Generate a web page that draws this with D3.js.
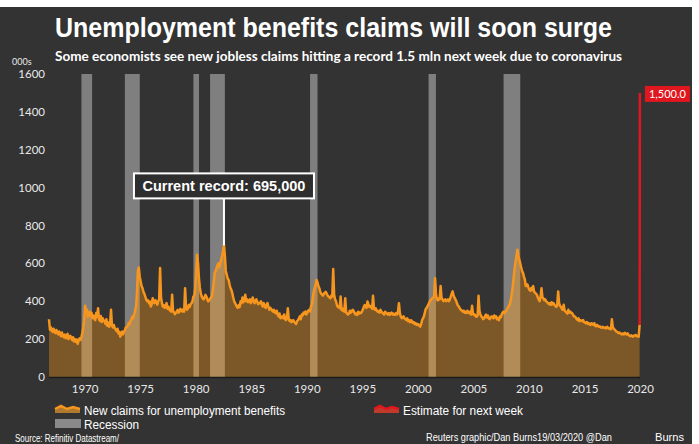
<!DOCTYPE html>
<html>
<head>
<meta charset="utf-8">
<script src="https://cdn.jsdelivr.net/npm/d3@7"></script>
<style>
  body { margin: 0; background: #ffffff; }
  svg { display: block; }
</style>
</head>
<body>
<div id="chart"></div>
<script>
// Initial jobless claims (000s), monthly levels, one row per year
const claims1967to1979 = [
  305, 250, 262, 245, 238, 255, 240, 232, 248, 236, 225, 240,
  228, 215, 235, 218, 210, 224, 205, 212, 228, 200, 210, 218,
  205, 195, 210, 188, 200, 185, 198, 175, 192, 204, 196, 212,
  230, 262, 300, 376, 340, 355, 318, 330, 345, 322, 338, 310,
  325, 312, 300, 338, 318, 363, 305, 296, 322, 290, 310, 298,
  295, 280, 305, 270, 288, 265, 284, 355, 272, 262, 275, 258,
  250, 242, 255, 230, 238, 213, 232, 240, 225, 238, 248, 262,
  262, 270, 285, 278, 295, 305, 319, 312, 330, 350, 372, 440,
  560, 578, 531, 505, 480, 470, 450, 440, 425, 410, 400, 405,
  390, 398, 372, 385, 416, 400, 390, 405, 395, 382, 400, 410,
  575, 420, 390, 372, 380, 365, 372, 390, 360, 372, 355, 350,
  345, 434, 350, 340, 332, 338, 346, 355, 340, 345, 360, 352,
  346, 358, 345, 469, 372, 355, 362, 380, 370, 385, 390, 400
];
const claims1980s = [
  425, 430, 470, 560, 646, 600, 520, 470, 440, 425, 415, 410,
  420, 434, 425, 410, 399, 405, 412, 420, 425, 460, 500, 549,
  560, 575, 590, 600, 580, 600, 620, 640, 665, 698, 640, 560,
  540, 520, 513, 490, 470, 460, 443, 420, 400, 390, 380, 370,
  365, 380, 370, 400, 390, 420, 395, 405, 434, 400, 410, 395,
  400, 410, 390, 399, 420, 405, 390, 400, 410, 395, 385, 392,
  390, 400, 380, 372, 390, 375, 365, 380, 390, 370, 355, 365,
  360, 350, 345, 355, 340, 337, 350, 330, 320, 335, 310, 315,
  320, 310, 330, 305, 300, 315, 363, 305, 295, 300, 290, 298,
  300, 290, 284, 280, 295, 300, 310, 320, 305, 330, 325, 340
];
const claims1990s = [
  335, 346, 330, 340, 350, 355, 346, 372, 385, 420, 450, 470,
  490, 513, 500, 480, 469, 450, 440, 435, 430, 440, 445, 450,
  440, 430, 425, 420, 416, 430, 425, 570, 434, 410, 400, 380,
  370, 375, 363, 425, 355, 350, 360, 345, 416, 340, 335, 330,
  335, 350, 340, 345, 355, 350, 340, 330, 335, 328, 345, 335,
  340, 338, 345, 355, 370, 380, 375, 365, 399, 385, 370, 375,
  370, 360, 429, 365, 355, 363, 350, 345, 348, 340, 355, 345,
  340, 335, 330, 345, 340, 335, 330, 338, 328, 335, 340, 330,
  335, 328, 330, 338, 330, 345, 390, 337, 320, 310, 315, 320,
  310, 305, 300, 310, 295, 300, 290, 300, 295, 285, 290, 280
];
const claims2000s = [
  285, 275, 280, 278, 270, 266, 280, 300, 310, 320, 340, 360,
  365, 375, 385, 395, 405, 410, 415, 420, 425, 522, 440, 410,
  405, 415, 410, 481, 420, 410, 400, 405, 410, 400, 405, 410,
  400, 410, 425, 440, 452, 430, 420, 410, 400, 385, 375, 370,
  360, 355, 350, 345, 350, 340, 345, 338, 350, 340, 337, 345,
  330, 376, 335, 328, 330, 320, 318, 325, 429, 350, 330, 320,
  315, 305, 310, 320, 330, 315, 325, 310, 305, 315, 320, 318,
  310, 325, 315, 320, 305, 310, 300, 320, 315, 330, 340, 345,
  337, 345, 350, 360, 370, 375, 390, 410, 443, 480, 530, 575,
  610, 640, 672, 640, 620, 601, 580, 560, 550, 530, 515, 480
];
const claims2010s = [
  490, 487, 470, 460, 455, 470, 460, 480, 450, 445, 440, 434,
  420, 410, 400, 425, 469, 420, 415, 405, 410, 400, 395, 390,
  385, 390, 381, 395, 385, 390, 380, 375, 370, 380, 452, 390,
  375, 370, 360, 355, 381, 350, 345, 340, 335, 355, 340, 345,
  340, 337, 330, 320, 319, 315, 305, 300, 310, 295, 300, 298,
  295, 300, 290, 288, 284, 290, 280, 285, 278, 275, 284, 280,
  275, 284, 270, 268, 275, 270, 265, 268, 262, 260, 265, 262,
  258, 262, 257, 265, 260, 255, 258, 252, 305, 265, 255, 250,
  245, 240, 238, 232, 235, 230, 228, 225, 230, 225, 233, 228,
  225, 230, 222, 218, 215, 220, 216, 213, 218, 220, 222, 215,
  215, 213, 275
];
const firstYear = 1967;

// NBER recessions as [start, end] in decimal years
const recessions = [
  [1969.92, 1970.88], [1973.83, 1975.17], [1980.0, 1980.5], [1981.5, 1982.83],
  [1990.5, 1991.17], [2001.17, 2001.83], [2007.92, 2009.42]
];

// Estimate for next week
const estimateDates = [2020.17, 2020.19];
const estimateValues = [275, 1500];

// Record
const recordDate = 1982.75;
const recordValue = 695;

const yTicks = [0, 200, 400, 600, 800, 1000, 1200, 1400, 1600];
const xTicks = [1970, 1975, 1980, 1985, 1990, 1995, 2000, 2005, 2010, 2015, 2020];

const W = 699, H = 444;
const bg = "#333333";
const areaColor = "#7c5727";
const lineColor = "#f6961e";
const bandColor = "#7f7f7f";
const bandOnArea = "#b28c58";
const red = "#e0171e";

const claims = [].concat(claims1967to1979, claims1980s, claims1990s, claims2000s, claims2010s)
  .map((v, i) => ({ date: firstYear + i / 12, value: v }));
const estimate = estimateDates.map((d, i) => ({ date: d, value: estimateValues[i] }));

const x = d3.scaleLinear().domain([1967, 2020.2]).range([49, 640]);
const y = d3.scaleLinear().domain([0, 1600]).range([377, 74]);

const svg = d3.select("#chart").append("svg")
  .attr("width", W)
  .attr("height", H);

// dark panel with white strip on top
svg.append("rect").attr("width", W).attr("height", H).attr("fill", "#ffffff");
svg.append("rect")
  .attr("x", 0).attr("y", 7)
  .attr("width", 692).attr("height", H - 7)
  .attr("fill", bg);

// recession bands behind everything
svg.append("g").selectAll("rect")
  .data(recessions)
  .enter()
  .append("rect")
  .attr("x", d => x(d[0]))
  .attr("y", y(1600))
  .attr("width", d => x(d[1]) - x(d[0]))
  .attr("height", y(0) - y(1600))
  .attr("fill", bandColor);

const area = d3.area()
  .x(d => x(d.date))
  .y0(y(0))
  .y1(d => y(d.value));

svg.append("path")
  .datum(claims)
  .attr("d", area)
  .attr("fill", areaColor);

// lighter band where the recession sits over the filled area
svg.append("clipPath")
  .attr("id", "area-clip")
  .append("path")
  .datum(claims)
  .attr("d", area);

svg.append("g")
  .attr("clip-path", "url(#area-clip)")
  .selectAll("rect")
  .data(recessions)
  .enter()
  .append("rect")
  .attr("x", d => x(d[0]))
  .attr("y", y(1600))
  .attr("width", d => x(d[1]) - x(d[0]))
  .attr("height", y(0) - y(1600))
  .attr("fill", bandOnArea);

const line = d3.line()
  .x(d => x(d.date))
  .y(d => y(d.value));

svg.append("path")
  .datum(claims)
  .attr("d", line)
  .attr("fill", "none")
  .attr("stroke", lineColor)
  .attr("stroke-width", 2.5)
  .attr("stroke-linejoin", "round");

// estimate line
svg.append("path")
  .datum(estimate)
  .attr("d", line)
  .attr("fill", "none")
  .attr("stroke", red)
  .attr("stroke-width", 2.5);

// baseline
svg.append("line")
  .attr("x1", x(1967)).attr("x2", x(2020.2))
  .attr("y1", y(0) + 0.5).attr("y2", y(0) + 0.5)
  .attr("stroke", "#1c1c1c")
  .attr("stroke-width", 1.5);

// y axis labels
svg.append("g").selectAll("text")
  .data(yTicks)
  .enter()
  .append("text")
  .attr("x", 45)
  .attr("y", d => y(d))
  .attr("dy", "0.35em")
  .attr("text-anchor", "end")
  .attr("font-family", "Lato, 'Open Sans', sans-serif")
  .attr("font-size", 11.5)
  .attr("fill", "#e8e8e8")
  .text(d => d);

svg.append("text")
  .attr("x", 12).attr("y", 65)
  .attr("font-family", "Lato, sans-serif")
  .attr("font-size", 9)
  .attr("fill", "#e8e8e8")
  .text("000s");

// x axis labels, centred a little into each year
svg.append("g").selectAll("text")
  .data(xTicks)
  .enter()
  .append("text")
  .attr("x", d => x(d + 0.25))
  .attr("y", 393)
  .attr("text-anchor", "middle")
  .attr("font-family", "Lato, 'Open Sans', sans-serif")
  .attr("font-size", 11.5)
  .attr("fill", "#e8e8e8")
  .text(d => d);

// titles
svg.append("text")
  .attr("x", 55).attr("y", 37)
  .attr("font-family", "'Liberation Sans', Arial, sans-serif")
  .attr("font-weight", "bold")
  .attr("font-size", 27)
  .attr("fill", "#ffffff")
  .attr("textLength", 557)
  .attr("lengthAdjust", "spacingAndGlyphs")
  .text("Unemployment benefits claims will soon surge");

svg.append("text")
  .attr("x", 55).attr("y", 61)
  .attr("font-family", "Lato, 'Open Sans', sans-serif")
  .attr("font-weight", "bold")
  .attr("font-size", 13)
  .attr("fill", "#ffffff")
  .attr("textLength", 567)
  .attr("lengthAdjust", "spacingAndGlyphs")
  .text("Some economists see new jobless claims hitting a record 1.5 mln next week due to coronavirus");

// record annotation
const rx = x(recordDate), ry = y(recordValue);
svg.append("line")
  .attr("x1", rx).attr("x2", rx)
  .attr("y1", ry).attr("y2", ry - 47)
  .attr("stroke", "#ffffff")
  .attr("stroke-width", 2);

svg.append("rect")
  .attr("x", rx - 90).attr("y", ry - 72)
  .attr("width", 180).attr("height", 25)
  .attr("fill", "#2e2e2e")
  .attr("stroke", "#ffffff")
  .attr("stroke-width", 2);

svg.append("text")
  .attr("x", rx).attr("y", ry - 54)
  .attr("text-anchor", "middle")
  .attr("font-family", "'Liberation Sans', Arial, sans-serif")
  .attr("font-weight", "bold")
  .attr("font-size", 14.5)
  .attr("fill", "#ffffff")
  .attr("textLength", 163)
  .attr("lengthAdjust", "spacingAndGlyphs")
  .text("Current record: " + d3.format(",")(recordValue * 1000));

// estimate label
const ex = x(estimateDates[1]), ey = y(estimateValues[1]);
svg.append("rect")
  .attr("x", ex + 5).attr("y", ey - 7)
  .attr("width", 45).attr("height", 16)
  .attr("fill", red);

svg.append("text")
  .attr("x", ex + 27.5).attr("y", ey + 5)
  .attr("text-anchor", "middle")
  .attr("font-family", "Lato, 'Open Sans', sans-serif")
  .attr("font-size", 11)
  .attr("fill", "#ffffff")
  .text(d3.format(",.1f")(estimateValues[1]));

// legend
const legendFont = "'Liberation Sans', Arial, sans-serif";

function areaSwatch(g, x0, y0, fill, stroke) {
  const pts = [[0, 4], [6, 1], [12, 4], [18, 2], [25, 4]];
  const p = d3.line()(pts.map(p => [x0 + p[0], y0 + p[1]]));
  g.append("path")
    .attr("d", p + `L${x0 + 25},${y0 + 8}L${x0},${y0 + 8}Z`)
    .attr("fill", fill);
  g.append("path")
    .attr("d", p)
    .attr("fill", "none")
    .attr("stroke", stroke)
    .attr("stroke-width", 2.5);
}

const legend = svg.append("g");
areaSwatch(legend, 55, 405, "#b07a2e", lineColor);
areaSwatch(legend, 374, 405, "#c0392b", red);

legend.append("rect")
  .attr("x", 55).attr("y", 419)
  .attr("width", 26).attr("height", 9)
  .attr("fill", "#8a8a8a");

legend.append("text")
  .attr("x", 84).attr("y", 415)
  .attr("font-family", legendFont)
  .attr("font-size", 12)
  .attr("fill", "#ffffff")
  .attr("textLength", 201)
  .attr("lengthAdjust", "spacingAndGlyphs")
  .text("New claims for unemployment benefits");

legend.append("text")
  .attr("x", 84).attr("y", 429)
  .attr("font-family", legendFont)
  .attr("font-size", 12)
  .attr("fill", "#ffffff")
  .attr("textLength", 55)
  .attr("lengthAdjust", "spacingAndGlyphs")
  .text("Recession");

legend.append("text")
  .attr("x", 403).attr("y", 415)
  .attr("font-family", legendFont)
  .attr("font-size", 12)
  .attr("fill", "#ffffff")
  .attr("textLength", 120)
  .attr("lengthAdjust", "spacingAndGlyphs")
  .text("Estimate for next week");

// footer along the bottom edge
svg.append("text")
  .attr("x", 15).attr("y", 442)
  .attr("font-family", legendFont)
  .attr("font-size", 10.5)
  .attr("fill", "#ffffff")
  .attr("textLength", 104)
  .attr("lengthAdjust", "spacingAndGlyphs")
  .text("Source: Refinitiv Datastream/");

svg.append("text")
  .attr("x", 426).attr("y", 441)
  .attr("font-family", legendFont)
  .attr("font-size", 10.5)
  .attr("fill", "#ffffff")
  .attr("textLength", 186)
  .attr("lengthAdjust", "spacingAndGlyphs")
  .text("Reuters graphic/Dan Burns19/03/2020 @Dan");

svg.append("text")
  .attr("x", 655).attr("y", 441)
  .attr("font-family", legendFont)
  .attr("font-size", 10.5)
  .attr("fill", "#ffffff")
  .attr("textLength", 29)
  .attr("lengthAdjust", "spacingAndGlyphs")
  .text("Burns");
</script>
</body>
</html>
